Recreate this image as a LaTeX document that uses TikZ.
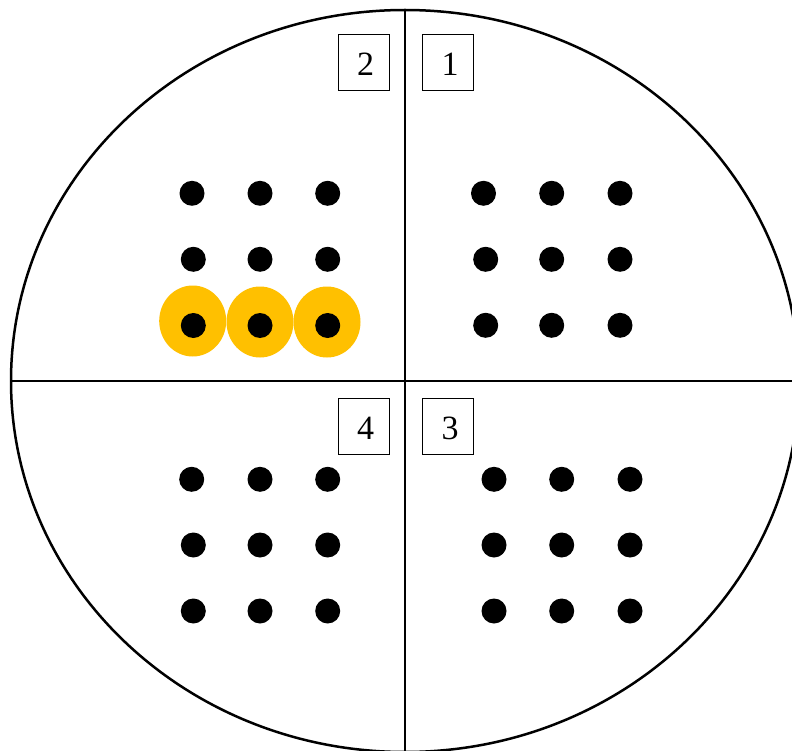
\documentclass[tikz,border=0pt]{standalone}
\usepackage{fontspec}
\setmainfont{Liberation Serif}
\definecolor{hiyellow}{HTML}{FFC000}
\tikzset{
  dot/.style={circle,fill=black,draw=none,minimum size=25pt,inner sep=0pt},
  halo/.style={ellipse,fill=hiyellow,draw=none,minimum width=67pt,minimum height=71pt,inner sep=0pt},
  numbox/.style={draw=black,line width=0.9pt,minimum width=51pt,minimum height=56pt,inner sep=0pt},
  numtext/.style={inner sep=0pt,font=\fontsize{34}{34}\selectfont},
  divline/.style={line width=2.5pt},
}
\usetikzlibrary{shapes.geometric}
\begin{document}
\begin{tikzpicture}[x=1pt,y=-1pt]
\useasboundingbox (0,0) rectangle (792,751);
\fill[white] (0,0) rectangle (792,751);
\begin{scope}
\clip (0,0) rectangle (792,751);
\draw[line width=2.5pt] (405,381) ellipse [x radius=394, y radius=371];
\end{scope}
\coordinate (vtop) at (405,10);
\coordinate (vbot) at (405,751);
\coordinate (hleft) at (11,381);
\coordinate (hright) at (792,381);
\draw[divline] (vtop) -- (vbot);
\draw[divline] (hleft) -- (hright);
% number boxes
\node[numbox] (b2) at (363.5,62) {};
\node[numbox] (b1) at (448,62) {};
\node[numbox] (b4) at (363.5,426) {};
\node[numbox] (b3) at (448,426) {};
\node[numtext] (t2) at ([xshift=2pt,yshift=-2pt]b2.center) {2};
\node[numtext] (t1) at ([xshift=2pt,yshift=-2pt]b1.center) {1};
\node[numtext] (t4) at ([xshift=2pt,yshift=-2pt]b4.center) {4};
\node[numtext] (t3) at ([xshift=2pt,yshift=-2pt]b3.center) {3};
% halos
\node[halo] (h1) at (192.7,321) {};
\node[halo] (h2) at (260,322) {};
\node[halo] (h3) at (327,322) {};
% quadrant 2
\node[dot] (q2a) at (192,193.3) {};
\node[dot] (q2b) at (260,193.3) {};
\node[dot] (q2c) at (327.7,193.3) {};
\node[dot] (q2d) at (193.3,259.3) {};
\node[dot] (q2e) at (260,259.3) {};
\node[dot] (q2f) at (327.7,259.3) {};
\node[dot] (q2g) at (193.3,325.5) {};
\node[dot] (q2h) at (260,325.5) {};
\node[dot] (q2i) at (327.7,325.5) {};
% quadrant 1
\node[dot] (q1a) at (483.5,193.3) {};
\node[dot] (q1b) at (551.7,193.3) {};
\node[dot] (q1c) at (620,193.3) {};
\node[dot] (q1d) at (485.7,259.3) {};
\node[dot] (q1e) at (551.7,259.3) {};
\node[dot] (q1f) at (620,259.3) {};
\node[dot] (q1g) at (485.7,325.3) {};
\node[dot] (q1h) at (551.7,325.3) {};
\node[dot] (q1i) at (620,325.3) {};
% quadrant 4
\node[dot] (q4a) at (191.7,479.3) {};
\node[dot] (q4b) at (260,479.3) {};
\node[dot] (q4c) at (327.7,479.3) {};
\node[dot] (q4d) at (193.3,545) {};
\node[dot] (q4e) at (260,545) {};
\node[dot] (q4f) at (327.7,545) {};
\node[dot] (q4g) at (193.3,611) {};
\node[dot] (q4h) at (260,611) {};
\node[dot] (q4i) at (327.7,611) {};
% quadrant 3
\node[dot] (q3a) at (494,479.3) {};
\node[dot] (q3b) at (561.7,479.3) {};
\node[dot] (q3c) at (630,479.3) {};
\node[dot] (q3d) at (494,545) {};
\node[dot] (q3e) at (561.7,545) {};
\node[dot] (q3f) at (630,545) {};
\node[dot] (q3g) at (494,611) {};
\node[dot] (q3h) at (561.7,611) {};
\node[dot] (q3i) at (630,611) {};
\end{tikzpicture}
\end{document}
